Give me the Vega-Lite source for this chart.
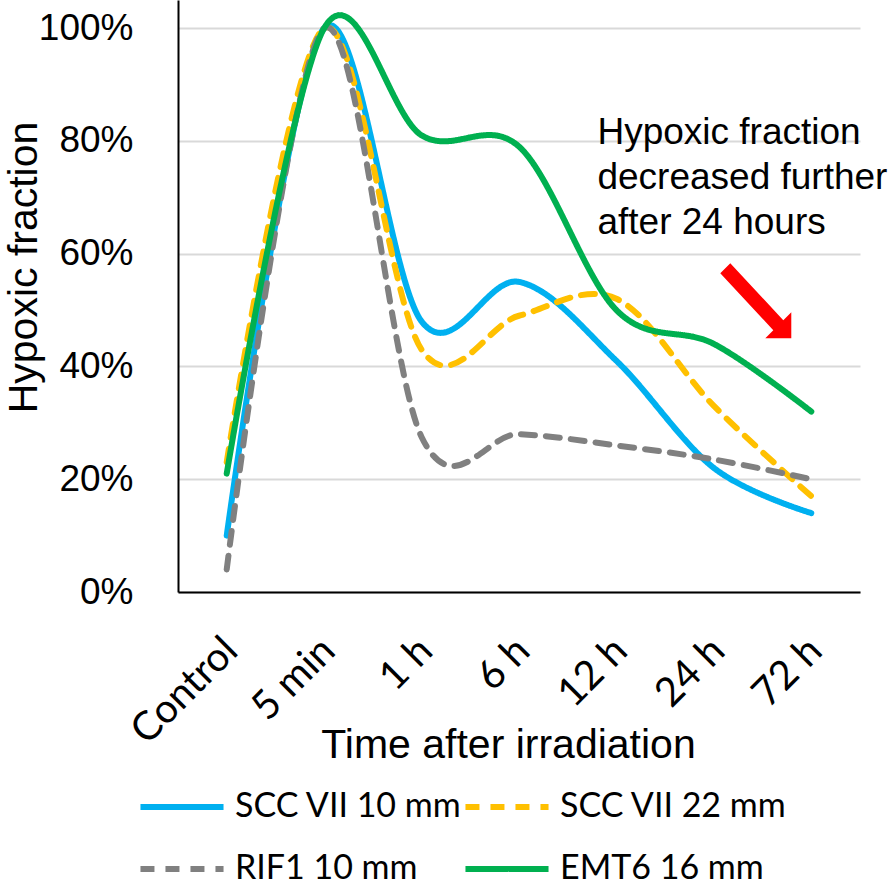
{
  "$schema": "https://vega.github.io/schema/vega-lite/v6.json",
  "width": 682,
  "height": 592,
  "autosize": {"type": "none"},
  "padding": {"left": 178, "top": 0, "right": 35, "bottom": 293},
  "background": "white",
  "config": {"view": {"stroke": null}},
  "layer": [
    {
      "data": {"values": [
        {"t": "Control", "s": "SCC VII 10 mm", "v": 0.10},
        {"t": "5 min", "s": "SCC VII 10 mm", "v": 1.00},
        {"t": "1 h", "s": "SCC VII 10 mm", "v": 0.48},
        {"t": "6 h", "s": "SCC VII 10 mm", "v": 0.55},
        {"t": "12 h", "s": "SCC VII 10 mm", "v": 0.41},
        {"t": "24 h", "s": "SCC VII 10 mm", "v": 0.22},
        {"t": "72 h", "s": "SCC VII 10 mm", "v": 0.14},
        {"t": "Control", "s": "SCC VII 22 mm", "v": 0.23},
        {"t": "5 min", "s": "SCC VII 22 mm", "v": 1.00},
        {"t": "1 h", "s": "SCC VII 22 mm", "v": 0.43},
        {"t": "6 h", "s": "SCC VII 22 mm", "v": 0.49},
        {"t": "12 h", "s": "SCC VII 22 mm", "v": 0.52},
        {"t": "24 h", "s": "SCC VII 22 mm", "v": 0.33},
        {"t": "72 h", "s": "SCC VII 22 mm", "v": 0.17},
        {"t": "Control", "s": "RIF1 10 mm", "v": 0.04},
        {"t": "5 min", "s": "RIF1 10 mm", "v": 1.00},
        {"t": "1 h", "s": "RIF1 10 mm", "v": 0.275},
        {"t": "6 h", "s": "RIF1 10 mm", "v": 0.28},
        {"t": "12 h", "s": "RIF1 10 mm", "v": 0.26},
        {"t": "24 h", "s": "RIF1 10 mm", "v": 0.235},
        {"t": "72 h", "s": "RIF1 10 mm", "v": 0.20},
        {"t": "Control", "s": "EMT6 16 mm", "v": 0.21},
        {"t": "5 min", "s": "EMT6 16 mm", "v": 1.00},
        {"t": "1 h", "s": "EMT6 16 mm", "v": 0.81},
        {"t": "6 h", "s": "EMT6 16 mm", "v": 0.79},
        {"t": "12 h", "s": "EMT6 16 mm", "v": 0.50},
        {"t": "24 h", "s": "EMT6 16 mm", "v": 0.44},
        {"t": "72 h", "s": "EMT6 16 mm", "v": 0.32}
      ]},
      "mark": {"type": "line", "interpolate": "cardinal", "strokeWidth": 6, "strokeCap": "round"},
      "encoding": {
        "x": {
          "field": "t", "type": "nominal",
          "sort": ["Control", "5 min", "1 h", "6 h", "12 h", "24 h", "72 h"],
          "axis": {
            "title": "Time after irradiation",
            "titleFont": "Liberation Sans", "titleFontSize": 41, "titleFontWeight": "normal", "titleColor": "black",
            "titlePadding": -26, "titleX": 330,
            "labelFont": "Lato", "labelFontSize": 40, "labelColor": "black",
            "labelAngle": -45, "labelPadding": 38, "labelOffset": -10,
            "ticks": false, "domainColor": "black", "domainWidth": 2, "grid": false
          }
        },
        "y": {
          "field": "v", "type": "quantitative",
          "scale": {"domain": [0, 1.05], "nice": false},
          "axis": {
            "title": "Hypoxic fraction",
            "titleFont": "Liberation Sans", "titleFontSize": 41, "titleFontWeight": "normal", "titleColor": "black",
            "titleX": -154, "titleY": 267, "titleAngle": -90, "titleAlign": "center", "titleBaseline": "middle",
            "labelFont": "Liberation Sans", "labelFontSize": 37, "labelColor": "black", "labelPadding": 45,
            "values": [0, 0.2, 0.4, 0.6, 0.8, 1.0], "format": ".0%",
            "ticks": false, "domainColor": "black", "domainWidth": 2,
            "grid": true, "gridColor": "#d9d9d9", "gridWidth": 2
          }
        },
        "color": {
          "field": "s", "type": "nominal",
          "scale": {"domain": ["SCC VII 10 mm", "SCC VII 22 mm", "RIF1 10 mm", "EMT6 16 mm"],
                    "range": ["#00B0F0", "#FFC000", "#808080", "#00B050"]},
          "legend": {
            "title": null, "orient": "none", "legendX": -41, "legendY": 762, "direction": "horizontal",
            "columns": 2, "columnPadding": -11, "rowPadding": -24,
            "symbolType": "stroke", "symbolSize": 6900, "symbolStrokeWidth": 6,
            "labelFont": "Lato", "labelFontSize": 34, "labelColor": "black",
            "labelOffset": 8, "labelLimit": 400
          }
        },
        "strokeDash": {
          "field": "s", "type": "nominal",
          "scale": {"domain": ["SCC VII 10 mm", "SCC VII 22 mm", "RIF1 10 mm", "EMT6 16 mm"],
                    "range": [[1, 0], [14, 11], [14, 11], [1, 0]]},
          "legend": {
            "title": null, "orient": "none", "legendX": -41, "legendY": 762, "direction": "horizontal",
            "columns": 2, "columnPadding": -11, "rowPadding": -24,
            "symbolType": "stroke", "symbolSize": 6900, "symbolStrokeWidth": 6,
            "labelFont": "Lato", "labelFontSize": 34, "labelColor": "black",
            "labelOffset": 8, "labelLimit": 400
          }
        }
      }
    },
    {
      "data": {"values": [
        {"t": "12 h", "v": 0.846, "label": ["Hypoxic fraction", "decreased further", "after 24 hours"]}
      ]},
      "mark": {"type": "text", "align": "left", "baseline": "top", "dx": -19, "font": "Liberation Sans", "fontSize": 37, "lineHeight": 45, "color": "black"},
      "encoding": {
        "x": {"field": "t", "type": "nominal", "sort": ["Control", "5 min", "1 h", "6 h", "12 h", "24 h", "72 h"]},
        "y": {"field": "v", "type": "quantitative"},
        "text": {"field": "label"}
      }
    },
    {
      "data": {"values": [{"t": "72 h", "v": 0.514}]},
      "mark": {"type": "point", "filled": true, "color": "#FF0000", "opacity": 1, "strokeWidth": 0, "size": 6400, "xOffset": -54,
               "shape": "M -0.675 -0.975 L 0.65 0.45 L 0.85 0.25 L 0.85 0.9 L 0.2 0.9 L 0.4 0.7 L -0.925 -0.725 Z"},
      "encoding": {
        "x": {"field": "t", "type": "nominal", "sort": ["Control", "5 min", "1 h", "6 h", "12 h", "24 h", "72 h"]},
        "y": {"field": "v", "type": "quantitative"}
      }
    }
  ]
}
